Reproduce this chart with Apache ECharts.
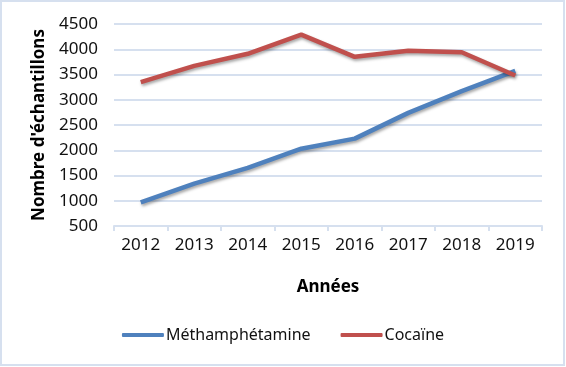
<!DOCTYPE html>
<html>
<head>
<meta charset="utf-8">
<script src="https://cdn.jsdelivr.net/npm/echarts@6/dist/echarts.min.js"></script>
<style>
html,body{margin:0;padding:0;background:#fff;}
#c{width:566px;height:367px;}
</style>
</head>
<body>
<div id="c"></div>
<script>
const years = ['2012','2013','2014','2015','2016','2017','2018','2019'];
const methamphetamine = [970, 1340, 1650, 2030, 2230, 2740, 3170, 3570];
const cocaine = [3350, 3670, 3910, 4290, 3850, 3970, 3940, 3480];
const seriesNames = ['Méthamphétamine', 'Cocaïne'];
const yTitle = "Nombre d'échantillons";
const xTitle = 'Années';

const FONT = 'Noto Sans';
const chart = echarts.init(document.getElementById('c'));
const lineShadow = {shadowColor:'rgba(0,0,0,0.35)', shadowBlur:3, shadowOffsetX:1, shadowOffsetY:2};
chart.setOption({
  animation:false,
  textStyle:{fontFamily:FONT},
  graphic:[{type:'rect', shape:{x:1,y:1,width:563,height:364}, style:{fill:'none', stroke:'#d6e0ef', lineWidth:2}, silent:true}],
  grid:{left:114, right:24, top:24, bottom:141},
  legend:{
    data:seriesNames, bottom:19, left:'center', itemWidth:42, itemHeight:4, itemGap:30,
    icon:'roundRect',
    textStyle:{fontFamily:FONT, fontSize:16, color:'#111', padding:[0,0,0,-3]}
  },
  xAxis:{
    type:'category', data:years, boundaryGap:true,
    name:xTitle, nameLocation:'middle', nameGap:53,
    nameTextStyle:{fontFamily:FONT, fontSize:17, fontWeight:'bold', color:'#000'},
    axisLine:{lineStyle:{color:'#d6e0ef', width:2}},
    axisTick:{show:true, length:5, lineStyle:{color:'#d6e0ef', width:2}},
    axisLabel:{fontFamily:FONT, fontSize:17, color:'#111', margin:11}
  },
  yAxis:{
    type:'value', min:500, max:4500, interval:500,
    name:yTitle, nameLocation:'middle', nameGap:66, nameRotate:90,
    nameTextStyle:{fontFamily:FONT, fontSize:17, fontWeight:'bold', color:'#000'},
    axisLine:{show:false}, axisTick:{show:false},
    splitLine:{lineStyle:{color:'#d6e0ef', width:2}},
    axisLabel:{fontFamily:FONT, fontSize:17, color:'#111', margin:16, formatter:v => String(v)}
  },
  series:[
    {name:seriesNames[0], type:'line', data:methamphetamine, symbol:'none',
     lineStyle:Object.assign({color:'#4f81bd', width:4.5}, lineShadow), itemStyle:{color:'#4f81bd'}},
    {name:seriesNames[1], type:'line', data:cocaine, symbol:'none',
     lineStyle:Object.assign({color:'#c0504d', width:4.5}, lineShadow), itemStyle:{color:'#c0504d'}}
  ]
});
</script>
</body>
</html>
